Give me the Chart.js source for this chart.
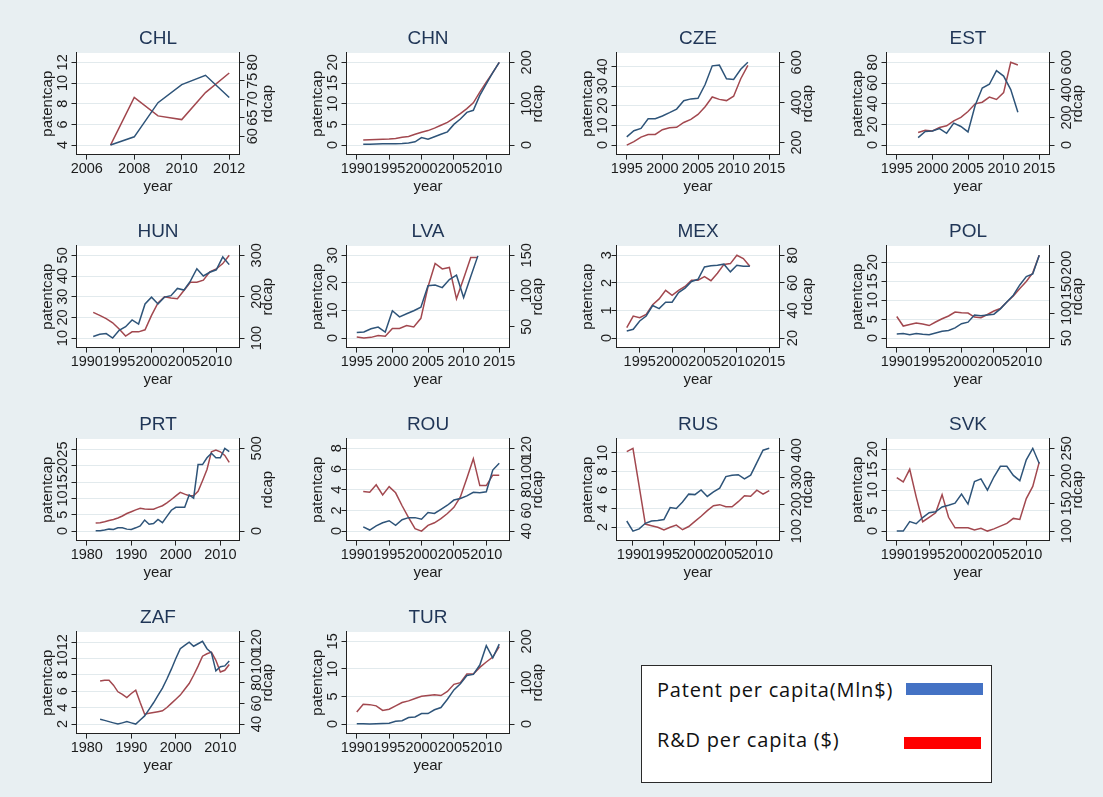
<!DOCTYPE html>
<html>
<head>
<meta charset="utf-8">
<script src="https://cdn.jsdelivr.net/npm/chart.js@4.4.1/dist/chart.umd.min.js"></script>
<style>
  body { margin: 0; width: 1103px; height: 797px; overflow: hidden; position: relative; background: #e8eff2; }
  canvas { position: absolute; }
  .plotbg { position: absolute; background: #ffffff; }
  #legend { position: absolute; left: 641px; top: 665px; width: 351px; height: 118px; box-sizing: border-box;
            background: #fff; border: 1.5px solid #2a2a2a; font-family: "Open Sans", "Noto Sans", sans-serif; font-size: 20px; letter-spacing: 0.8px; color: #111; }
  #legend .txt { position: absolute; left: 15px; line-height: 26px; white-space: nowrap; }
  #legend .bar { position: absolute; width: 77px; height: 12px; }
</style>
</head>
<body>
<div id="legend">
  <div class="txt" style="top:11px">Patent per capita(Mln$)</div>
  <div class="bar" style="left:264px;top:17px;background:#4472c4"></div>
  <div class="txt" style="top:61px">R&amp;D per capita ($)</div>
  <div class="bar" style="left:262px;top:71px;background:#ff0000"></div>
</div>
<script>
// --- years (x categories) ---
const yrs2007 = [2007, 2008, 2009, 2010, 2011, 2012];
const yrs1998 = [1998, 1999, 2000, 2001, 2002, 2003, 2004, 2005, 2006, 2007, 2008, 2009, 2010, 2011, 2012];
const yrs1995 = [1995, 1996, 1997, 1998, 1999, 2000, 2001, 2002, 2003, 2004, 2005, 2006, 2007, 2008, 2009, 2010, 2011, 2012];
const yrs1993 = [1993, 1994, 1995, 1996, 1997, 1998, 1999, 2000, 2001, 2002, 2003, 2004, 2005, 2006, 2007, 2008, 2009, 2010, 2011, 2012];
const yrs1991 = [1991, 1992, 1993, 1994, 1995, 1996, 1997, 1998, 1999, 2000, 2001, 2002, 2003, 2004, 2005, 2006, 2007, 2008, 2009, 2010, 2011, 2012];
const yrs1990 = [1990, 1991, 1992, 1993, 1994, 1995, 1996, 1997, 1998, 1999, 2000, 2001, 2002, 2003, 2004, 2005, 2006, 2007, 2008, 2009, 2010, 2011, 2012];
const yrs1989 = [1989, 1990, 1991, 1992, 1993, 1994, 1995, 1996, 1997, 1998, 1999, 2000, 2001, 2002, 2003, 2004, 2005, 2006, 2007, 2008, 2009, 2010, 2011, 2012];
const yrs1983 = [1983, 1984, 1985, 1986, 1987, 1988, 1989, 1990, 1991, 1992, 1993, 1994, 1995, 1996, 1997, 1998, 1999, 2000, 2001, 2002, 2003, 2004, 2005, 2006, 2007, 2008, 2009, 2010, 2011, 2012];
const yrs1982 = [1982, 1983, 1984, 1985, 1986, 1987, 1988, 1989, 1990, 1991, 1992, 1993, 1994, 1995, 1996, 1997, 1998, 1999, 2000, 2001, 2002, 2003, 2004, 2005, 2006, 2007, 2008, 2009, 2010, 2011, 2012];

// --- patentcap / rdcap per country ---
const chlPatent = [4.0, 4.8, 8.1, 9.85, 10.75, 8.6];
const chlRd = [57.6, 70.5, 65.5, 64.5, 71.8, 77.1];
const chnPatent = [0.2, 0.2, 0.25, 0.3, 0.3, 0.35, 0.4, 0.5, 0.8, 1.8, 1.4, 2.0, 2.6, 3.2, 5.0, 6.3, 7.9, 8.4, 12.0, 14.8, 17.5, 20.0];
const chnRd = [12, 13, 13.5, 14, 14.5, 16, 19, 21, 26, 31, 35, 41, 48, 55, 65, 76, 88, 102, 128, 152, 175, 200];
const czePatent = [4.2, 7.3, 8.5, 13.4, 13.4, 14.8, 16.5, 18.3, 22.6, 23.5, 23.8, 30.8, 40.3, 40.7, 33.7, 33.4, 38.6, 42.1];
const czeRd = [187, 204, 227, 240, 240, 264, 273, 276, 300, 315, 340, 378, 427, 415, 409, 431, 518, 585];
const estPatent = [7.2, 13.1, 13.7, 16, 11.4, 21.2, 18, 12.7, 38.2, 55.2, 58.8, 71.9, 66.7, 53.6, 31.7];
const estRd = [91, 108, 103, 127, 140, 176, 201, 243, 299, 311, 348, 331, 380, 600, 581];
const hunPatent = [10.8, 11.8, 12.2, 10.0, 13.8, 15.5, 18.8, 16.8, 26.5, 29.8, 26.5, 29.8, 30.5, 34, 33.2, 37.5, 43.5, 40, 41.8, 43, 49.2, 45.5];
const hunRd = [162, 155, 147, 137, 122, 105, 115, 115, 120, 155, 185, 200, 197, 195, 215, 235, 235, 240, 260, 267, 280, 300];
const lvaPatent = [2.0, 2.2, 3.4, 4.0, 2.2, 9.9, 7.7, 8.8, 9.9, 11.2, 19.0, 19.2, 18.3, 21.2, 22.8, 14.7, 22.3, 29.8];
const lvaRd = [35.5, 34, 35, 37.5, 36.7, 47.6, 47.6, 51.6, 49.6, 61.7, 106, 138.5, 131, 133, 89, 117.6, 147, 147];
const mexPatent = [0.26, 0.32, 0.62, 0.8, 1.18, 1.07, 1.3, 1.3, 1.65, 1.81, 2.05, 2.13, 2.58, 2.62, 2.64, 2.68, 2.4, 2.64, 2.6, 2.6];
const mexRd = [27.6, 36, 34.8, 37.2, 44.2, 48.4, 54.6, 51, 54.6, 57.4, 62, 62, 64.6, 61.6, 67, 73.4, 74, 80, 77.6, 72];
const polPatent = [1.1, 1.2, 0.9, 1.2, 1.0, 0.9, 1.35, 1.8, 2.0, 2.7, 3.8, 4.2, 6.1, 5.9, 6.1, 6.3, 7.7, 9.5, 11.3, 14, 16.2, 16.9, 21.8];
const polRd = [93, 74, 77, 80, 78, 75, 82, 88.5, 94, 102, 100.7, 100, 92, 90.5, 97, 104, 109, 122, 134, 149, 163, 180, 215];
const prtPatent = [0.1, 0.1, 0.3, 0.6, 0.5, 1.0, 1.0, 0.6, 0.5, 1.0, 1.6, 3.4, 2.1, 2.3, 3.6, 2.6, 4.5, 6.4, 7.3, 7.3, 7.3, 11.1, 10.1, 20.4, 20.4, 22.5, 23.9, 22.5, 22.5, 25.4, 24.4];
const prtRd = [49, 51, 57, 64, 70, 79, 91, 106, 117, 128, 138, 134, 132, 132, 143, 153, 170, 191, 213, 234, 223, 213, 213, 240, 304, 372, 479, 489, 479, 457, 415];
const rouPatent = [0.4, 0.1, 0.5, 0.8, 1.0, 0.55, 1.1, 1.3, 1.3, 1.15, 1.8, 1.7, 2.1, 2.5, 3.0, 3.15, 3.4, 3.75, 3.7, 3.8, 5.9, 6.55];
const rouRd = [78.2, 77.6, 84.8, 75, 83, 77, 64.5, 53, 42.3, 40, 45.5, 48, 52, 57, 63, 73, 91, 110, 84, 84, 94, 94];
const rusPatent = [2.65, 1.56, 1.8, 2.4, 2.65, 2.7, 2.8, 4.1, 4.0, 4.7, 5.55, 5.5, 6.0, 5.3, 5.8, 6.2, 7.45, 7.6, 7.65, 7.2, 7.6, 8.95, 10.3, 10.5];
const rusRd = [395, 407, 267, 126, 120, 114, 104, 114, 122, 105, 117, 136, 155, 176, 194, 198, 190, 190, 209, 231, 229, 252, 237, 250];
const svkPatent = [0, 0, 2.3, 1.8, 3.3, 4.5, 4.7, 5.9, 6.3, 6.8, 9.05, 6.6, 12.1, 12.75, 10.0, 13.2, 15.8, 15.8, 13.6, 12.3, 17.4, 20.2, 16.5];
const svkRd = [197, 189, 212, 162, 117, 125, 133, 166, 125, 106, 106, 106, 102, 105, 100, 104, 109, 114, 123, 121, 159, 181, 225];
const zafPatent = [2.6, 2.45, 2.3, 2.15, 2.0, 2.15, 2.3, 2.15, 2.0, 2.5, 3.0, 3.8, 4.6, 5.5, 6.4, 7.5, 8.7, 10.0, 11.2, 11.6, 12.0, 11.5, 11.8, 12.1, 11.2, 10.7, 8.5, 9.0, 9.1, 9.7];
const zafRd = [81.6, 82.4, 82.4, 77.6, 71.2, 68.8, 65.6, 69.6, 72.8, 60.8, 49.6, 50.4, 51.2, 52, 52.8, 56, 60, 64, 68, 73.6, 79.2, 87.2, 96, 105.6, 108, 109.6, 101.6, 90.4, 92, 97.6];
const turPatent = [0.05, 0.05, 0, 0.05, 0.1, 0.15, 0.5, 0.6, 1.2, 1.3, 1.9, 1.9, 2.6, 3.0, 4.5, 6.2, 7.3, 8.8, 9.0, 10.7, 14.2, 12.0, 14.5];
const turRd = [29, 48, 47, 44, 33, 36, 44, 52, 56, 62, 67, 69, 71, 69, 79, 96, 100, 121, 121, 137, 150, 162, 187];

// --- tick labels ---
const ticksX0612 = [2006, 2008, 2010, 2012];
const ticksX9010 = [1990, 1995, 2000, 2005, 2010];
const ticksX9515 = [1995, 2000, 2005, 2010, 2015];
const ticksX8010 = [1980, 1990, 2000, 2010];

const panels = [
  { name: "CHL", years: yrs2007, patent: chlPatent, rd: chlRd, xTicks: ticksX0612, yTicks: [4, 6, 8, 10, 12], y1Ticks: [60, 65, 70, 75, 80] },
  { name: "CHN", years: yrs1991, patent: chnPatent, rd: chnRd, xTicks: ticksX9010, yTicks: [0, 5, 10, 15, 20], y1Ticks: [0, 100, 200] },
  { name: "CZE", years: yrs1995, patent: czePatent, rd: czeRd, xTicks: ticksX9515, yTicks: [0, 10, 20, 30, 40], y1Ticks: [200, 400, 600] },
  { name: "EST", years: yrs1998, patent: estPatent, rd: estRd, xTicks: ticksX9515, yTicks: [0, 20, 40, 60, 80], y1Ticks: [0, 200, 400, 600] },
  { name: "HUN", years: yrs1991, patent: hunPatent, rd: hunRd, xTicks: ticksX9010, yTicks: [10, 20, 30, 40, 50], y1Ticks: [100, 200, 300] },
  { name: "LVA", years: yrs1995, patent: lvaPatent, rd: lvaRd, xTicks: ticksX9515, yTicks: [0, 10, 20, 30], y1Ticks: [50, 100, 150] },
  { name: "MEX", years: yrs1993, patent: mexPatent, rd: mexRd, xTicks: ticksX9515, yTicks: [0, 1, 2, 3], y1Ticks: [20, 40, 60, 80] },
  { name: "POL", years: yrs1990, patent: polPatent, rd: polRd, xTicks: ticksX9010, yTicks: [0, 5, 10, 15, 20], y1Ticks: [50, 100, 150, 200] },
  { name: "PRT", years: yrs1982, patent: prtPatent, rd: prtRd, xTicks: ticksX8010, yTicks: [0, 5, 10, 15, 20, 25], y1Ticks: [0, 500] },
  { name: "ROU", years: yrs1991, patent: rouPatent, rd: rouRd, xTicks: ticksX9010, yTicks: [0, 2, 4, 6, 8], y1Ticks: [40, 60, 80, 100, 120] },
  { name: "RUS", years: yrs1989, patent: rusPatent, rd: rusRd, xTicks: ticksX9010, yTicks: [2, 4, 6, 8, 10], y1Ticks: [100, 200, 300, 400] },
  { name: "SVK", years: yrs1990, patent: svkPatent, rd: svkRd, xTicks: ticksX9010, yTicks: [0, 5, 10, 15, 20], y1Ticks: [100, 150, 200, 250] },
  { name: "ZAF", years: yrs1983, patent: zafPatent, rd: zafRd, xTicks: ticksX8010, yTicks: [2, 4, 6, 8, 10, 12], y1Ticks: [40, 60, 80, 100, 120] },
  { name: "TUR", years: yrs1990, patent: turPatent, rd: turRd, xTicks: ticksX9010, yTicks: [0, 5, 10, 15], y1Ticks: [0, 100, 200] }
];

const NAVY = "#2e5479";
const MAROON = "#a2484f";
const FONT = "'Liberation Sans', Arial, sans-serif";
const INK = "#1c1c1c";
const GRID = "#e2eaed";

// stata-like range: ticks + data, with a margin on both sides
function axisRange(ticks, values, frac) {
  const lo = Math.min(ticks[0], ...values);
  const hi = Math.max(ticks[ticks.length - 1], ...values);
  const pad = (hi - lo) * frac;
  return { min: lo - pad, max: hi + pad };
}

// right axis title reads bottom-to-top like the left one
const rdTitle = {
  id: "rdTitle",
  afterDraw(chart) {
    const s = chart.scales.y1, ctx = chart.ctx;
    ctx.save();
    ctx.font = "15px " + FONT;
    ctx.fillStyle = INK;
    ctx.textAlign = "center";
    ctx.textBaseline = "middle";
    ctx.translate(s.right - (2 + 9), (s.top + s.bottom) / 2);
    ctx.rotate(-Math.PI / 2);
    ctx.fillText("rdcap", 0, 0);
    ctx.restore();
  }
};

function yAxis(ticks, range, position, grid) {
  return {
    type: "linear",
    position,
    min: range.min,
    max: range.max,
    afterBuildTicks: s => { s.ticks = ticks.map(v => ({ value: v })); },
    ticks: {
      autoSkip: false, minRotation: 90, maxRotation: 90, crossAlign: "center", padding: 0,
      color: INK, font: { family: FONT, size: 14.5, lineHeight: 1 },
      callback: v => String(v)
    },
    grid: { drawOnChartArea: grid, color: GRID, tickColor: "#222", tickLength: 5, lineWidth: 1 },
    border: { display: true, color: "#222", width: 1 },
    title: {
      display: true, text: position === "left" ? "patentcap" : "rdcap",
      color: position === "left" ? INK : "rgba(0,0,0,0)",
      font: { family: FONT, size: 15 }, padding: { top: 2, bottom: 0 }
    }
  };
}

const W = 270, H = 186;
panels.forEach((p, i) => {
  const col = i % 4, row = Math.floor(i / 4);
  const left = 19 + col * 270, top = 21 + row * 193;

  // white plot region sits behind the (transparent) canvas
  const bg = document.createElement("div");
  bg.className = "plotbg";
  document.body.appendChild(bg);

  const canvas = document.createElement("canvas");
  canvas.width = W; canvas.height = H;
  canvas.style.left = left + "px";
  canvas.style.top = top + "px";
  document.body.appendChild(canvas);

  const xr = axisRange(p.xTicks, p.years, 0.072);
  const yr = axisRange(p.yTicks, p.patent, 0.115);
  const y1r = axisRange(p.y1Ticks, p.rd, 0.115);

  const chart = new Chart(canvas, {
    type: "line",
    data: {
      datasets: [
        { label: "patentcap", data: p.years.map((x, k) => ({ x, y: p.patent[k] })), yAxisID: "y",
          borderColor: NAVY, borderWidth: 1.5, pointRadius: 0, tension: 0 },
        { label: "rdcap", data: p.years.map((x, k) => ({ x, y: p.rd[k] })), yAxisID: "y1",
          borderColor: MAROON, borderWidth: 1.5, pointRadius: 0, tension: 0 }
      ]
    },
    options: {
      responsive: false,
      animation: false,
      layout: { padding: { left: 18, right: 10, top: 2, bottom: 11 } },
      plugins: {
        legend: { display: false },
        tooltip: { enabled: false },
        title: { display: true, text: p.name, color: "#1f3556", font: { family: FONT, size: 19, weight: "normal" }, padding: { top: 4, bottom: 3 } }
      },
      scales: {
        x: {
          type: "linear",
          min: xr.min,
          max: xr.max,
          afterBuildTicks: s => { s.ticks = p.xTicks.map(v => ({ value: v })); },
          ticks: { autoSkip: false, maxRotation: 0, minRotation: 0, padding: 1, color: INK,
                   font: { family: FONT, size: 14.5 }, callback: v => String(v) },
          grid: { drawOnChartArea: false, tickColor: "#222", tickLength: 5 },
          border: { display: true, color: "#222", width: 1 },
          title: { display: true, text: "year", color: INK, font: { family: FONT, size: 15, lineHeight: 1 }, padding: { top: 0, bottom: 2 } }
        },
        y: yAxis(p.yTicks, yr, "left", true),
        y1: yAxis(p.y1Ticks, y1r, "right", false)
      }
    },
    plugins: [rdTitle]
  });

  const a = chart.chartArea;
  bg.style.left = (left + a.left) + "px";
  bg.style.top = (top + a.top) + "px";
  bg.style.width = (a.right - a.left) + "px";
  bg.style.height = (a.bottom - a.top) + "px";
});
</script>
</body>
</html>
